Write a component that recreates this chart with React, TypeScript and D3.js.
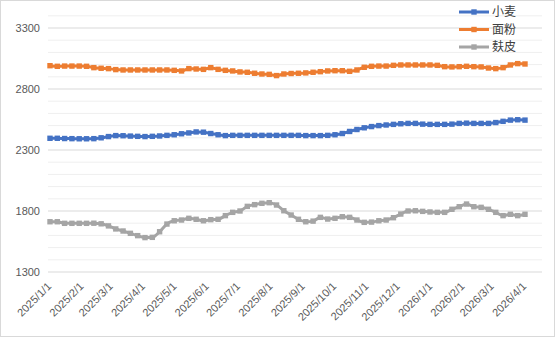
import React from "react";
import * as d3 from "d3";

const seriesNames = ["小麦", "面粉", "麸皮"];
const seriesColors = ["#4472C4", "#ED7D31", "#A5A5A5"];

const wheat = [
  2396, 2396, 2394, 2393, 2392, 2392, 2393, 2400, 2410, 2418, 2417, 2414, 2412, 2410, 2412, 2415, 2420,
  2425, 2433, 2440, 2448, 2446, 2435, 2425, 2418, 2420, 2420, 2420, 2420, 2420, 2420, 2420, 2420, 2420,
  2420, 2418, 2418, 2418, 2420, 2425, 2435, 2452, 2468, 2482, 2492, 2500, 2505, 2510, 2515, 2518, 2518,
  2512, 2510, 2510, 2510, 2512, 2518, 2520, 2518, 2518, 2518, 2525, 2535, 2545, 2548, 2545,
];
const flour = [
  2991, 2986, 2988, 2988, 2988, 2986, 2975, 2970, 2967, 2959, 2956, 2956, 2956, 2956, 2956, 2956, 2956,
  2953, 2948, 2967, 2964, 2961, 2975, 2961, 2953, 2948, 2940, 2937, 2929, 2923, 2920, 2910, 2923, 2927,
  2929, 2932, 2937, 2942, 2948, 2950, 2950, 2945, 2956, 2978, 2986, 2988, 2988, 2994, 2997, 2997, 2997,
  2997, 2997, 2994, 2983, 2981, 2983, 2986, 2983, 2981, 2972, 2967, 2975, 2997, 3008, 3005,
];
const bran = [
  1712, 1712, 1699, 1699, 1699, 1699, 1700, 1695, 1678, 1653, 1636, 1617, 1598, 1582, 1584, 1630, 1693,
  1720, 1726, 1740, 1732, 1720, 1729, 1732, 1762, 1789, 1800, 1838, 1852, 1863, 1868, 1849, 1802, 1767,
  1732, 1712, 1717, 1748, 1734, 1740, 1753, 1748, 1726, 1707, 1709, 1720, 1726, 1745, 1775, 1800, 1802,
  1797, 1792, 1789, 1789, 1814, 1835, 1857, 1835, 1830, 1814, 1789, 1762, 1773, 1762, 1773,
];

const startDate = new Date(2025, 0, 1);
const dates = wheat.map((_, i) => d3.timeDay.offset(startDate, i * 7));
const tickDates = d3.timeMonth.range(new Date(2025, 0, 1), new Date(2026, 3, 2));
const yTicks = [1300, 1800, 2300, 2800, 3300];
const yMinor = d3.range(1300, 3401, 100);

export default function App() {
  const W = 555, H = 337;
  const plotL = 48, plotR = 542;
  const x = d3.scaleTime().domain([new Date(2025, 0, 1), new Date(2026, 3, 1)]).range([50, 525]);
  const y = d3.scaleLinear().domain([1300, 3400]).range([272, 15.8]);
  const all = [wheat, flour, bran];
  const line = d3
    .line<number>()
    .x((_, i) => x(dates[i]))
    .y((v) => y(v))
    .curve(d3.curveMonotoneX);
  const font = "'Liberation Sans', Arial, sans-serif";
  const cjk = "'Noto Sans CJK SC', sans-serif";
  return (
    <svg width={W} height={H} style={{ position: "absolute", left: 0, top: 0, background: "#fff" }}>
      <rect x={0.5} y={0.5} width={W - 1} height={H - 1} fill="#fff" stroke="#d9d9d9" />
      {yMinor.map((v) => (
        <line key={"m" + v} x1={plotL} x2={plotR} y1={y(v)} y2={y(v)} stroke={v % 500 === 300 ? "#d9d9d9" : "#efefef"} strokeWidth={1} />
      ))}
      {yTicks.map((v) => (
        <text key={"yt" + v} x={40} y={y(v) + 4} textAnchor="end" fontSize={11} fill="#595959" fontFamily={font}>
          {v}
        </text>
      ))}
      {tickDates.map((d, i) => {
        const tx = x(d) + 2;
        const ty = 287;
        return (
          <text
            key={"xt" + i}
            x={tx}
            y={ty}
            textAnchor="end"
            fontSize={11}
            fill="#595959"
            fontFamily={font}
            transform={`rotate(-45 ${tx} ${ty})`}
          >
            {`${d.getFullYear()}/${d.getMonth() + 1}/${d.getDate()}`}
          </text>
        );
      })}
      {all.map((s, k) => (
        <g key={"s" + k}>
          <path d={line(s) || ""} fill="none" stroke={seriesColors[k]} strokeWidth={3} />
          {s.map((v, i) => (
            <rect key={i} x={x(dates[i]) - 2.7} y={y(v) - 2.7} width={5.4} height={5.4} fill={seriesColors[k]} />
          ))}
        </g>
      ))}
      {seriesNames.map((n, k) => {
        const ly = 12 + k * 17.5;
        return (
          <g key={"lg" + k}>
            <line x1={459} x2={489} y1={ly} y2={ly} stroke={seriesColors[k]} strokeWidth={3} />
            <rect x={474 - 2.7} y={ly - 2.7} width={5.4} height={5.4} fill={seriesColors[k]} />
            <text x={492} y={ly + 4.3} fontSize={12} fill="#404040" fontFamily={cjk}>
              {n}
            </text>
          </g>
        );
      })}
    </svg>
  );
}
